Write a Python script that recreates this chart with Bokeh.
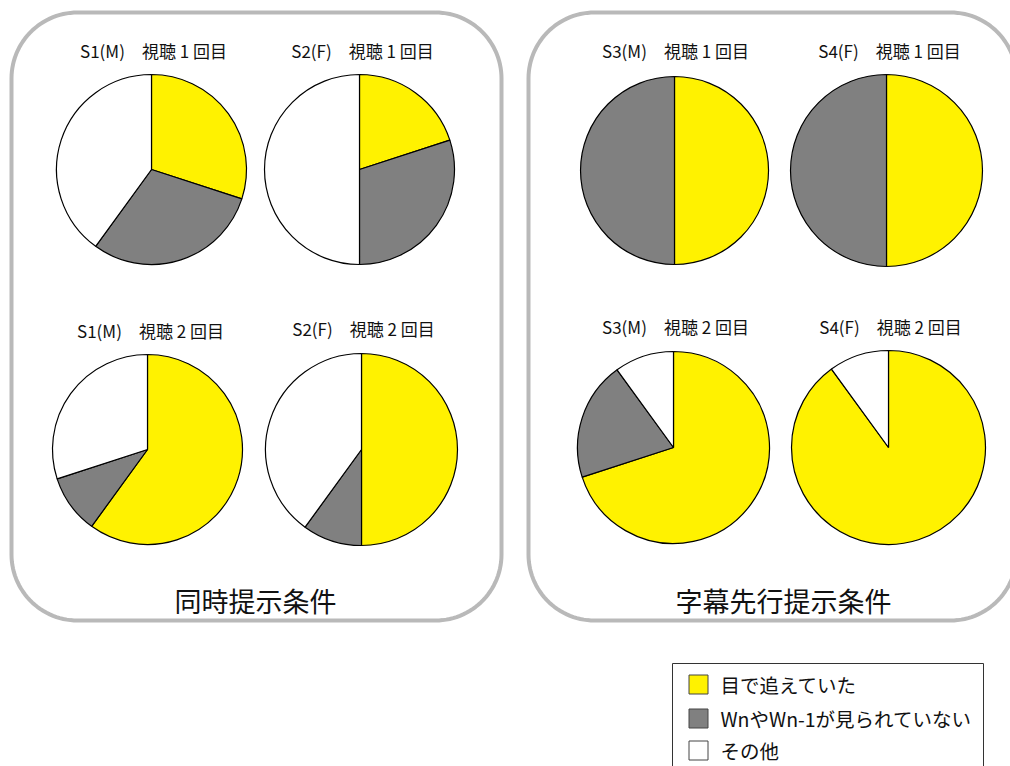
import numpy as np
from bokeh.plotting import figure
from bokeh.models import ColumnDataSource, Range1d
from bokeh.core.properties import value
from bokeh.embed import file_html
from bokeh.resources import INLINE

# ---------------- data ----------------
categories = ["目で追えていた", "WnやWn-1が見られていない", "その他"]
colors = ["#FFF200", "#808080", "#FFFFFF"]

pie_titles = ["S1(M)　視聴 1 回目", "S2(F)　視聴 1 回目",
              "S1(M)　視聴 2 回目", "S2(F)　視聴 2 回目",
              "S3(M)　視聴 1 回目", "S4(F)　視聴 1 回目",
              "S3(M)　視聴 2 回目", "S4(F)　視聴 2 回目"]
followed = [30, 20, 60, 50, 50, 50, 70, 90]        # 目で追えていた (%)
not_seen = [30, 30, 10, 10, 50, 50, 20, 0]         # WnやWn-1が見られていない (%)
other = [40, 50, 30, 40, 0, 0, 10, 10]             # その他 (%)

group_titles = ["同時提示条件", "字幕先行提示条件"]

# ---------------- layout (screen pixel coordinates) ----------------
W, H = 1010, 766
def sy(y):  # screen y -> data y
    return H - y

centers = [(151, 169), (359, 169), (147, 449), (361, 449),
           (674, 170), (886, 170), (673, 447), (888, 447)]
radii = [95, 95, 95, 96, 94, 96, 96, 97]
title_pos = [(153, 50), (362, 50), (150, 330), (363, 328),
             (675, 50), (889, 50), (675, 326), (890, 326)]

FONT = value("Noto Sans CJK JP")

p = figure(width=W, height=H, output_backend="svg", toolbar_location=None,
           x_axis_type=None, y_axis_type=None, min_border=0,
           x_range=Range1d(0, W), y_range=Range1d(0, H))
p.grid.visible = False
p.outline_line_color = None
p.background_fill_color = "white"
p.border_fill_color = "white"

# rounded boxes
def rounded_rect(x0, y0, x1, y1, r, n=30):
    xs, ys = [], []
    corners = [((x1 - r, y0 + r), -np.pi / 2, 0),
               ((x1 - r, y1 - r), 0, np.pi / 2),
               ((x0 + r, y1 - r), np.pi / 2, np.pi),
               ((x0 + r, y0 + r), np.pi, 1.5 * np.pi)]
    for (cx, cy), a0, a1 in corners:
        t = np.linspace(a0, a1, n)
        xs.extend(cx + r * np.cos(t))
        ys.extend(cy + r * np.sin(t))
    xs.append(xs[0]); ys.append(ys[0])
    return np.array(xs), np.array(ys)

for (x0, y0, x1, y1) in [(11, 12, 501, 620), (528, 12, 1016, 620)]:
    xs, ys = rounded_rect(x0, y0, x1, y1, 66)
    p.line(xs, [sy(v) for v in ys], line_color="#B9B9B9", line_width=4)

# pies
series = [followed, not_seen, other]
rows = dict(x=[], y=[], r=[], start=[], end=[], color=[])
for i in range(len(pie_titles)):
    vals = [s[i] for s in series]
    total = float(sum(vals))
    cum = 0.0
    for k, v in enumerate(vals):
        if v <= 0:
            continue
        a_start = np.pi / 2 - 2 * np.pi * cum / total
        cum += v
        a_end = np.pi / 2 - 2 * np.pi * cum / total
        rows["x"].append(centers[i][0])
        rows["y"].append(sy(centers[i][1]))
        rows["r"].append(radii[i])
        rows["start"].append(a_end)
        rows["end"].append(a_start)
        rows["color"].append(colors[k])
src = ColumnDataSource(rows)
p.wedge(x="x", y="y", radius="r", start_angle="start", end_angle="end",
        direction="anticlock", fill_color="color", line_color="black",
        line_width=1.2, source=src)

# pie titles
p.text(x=[t[0] for t in title_pos], y=[sy(t[1]) for t in title_pos], text=pie_titles,
       text_font=FONT, text_font_size="17px", text_align="center",
       text_baseline="middle", text_color="#111111")

# group titles
p.text(x=[255, 783], y=[sy(600), sy(600)], text=group_titles,
       text_font=FONT, text_font_size="27px", text_align="center",
       text_baseline="middle", text_color="#111111")

# legend
p.quad(left=[672], right=[983], top=[sy(663)], bottom=[sy(790)],
       fill_color="white", line_color="#333333", line_width=1)
leg_y = [684, 718, 750]
p.rect(x=[698] * 3, y=[sy(v) for v in leg_y], width=19, height=19,
       fill_color=colors, line_color="#444444", line_width=1)
p.text(x=[720] * 3, y=[sy(v) for v in leg_y], text=categories,
       text_font=FONT, text_font_size="19.5px", text_align="left",
       text_baseline="middle", text_color="#111111")

open("out.html", "w").write(file_html(p, INLINE))
